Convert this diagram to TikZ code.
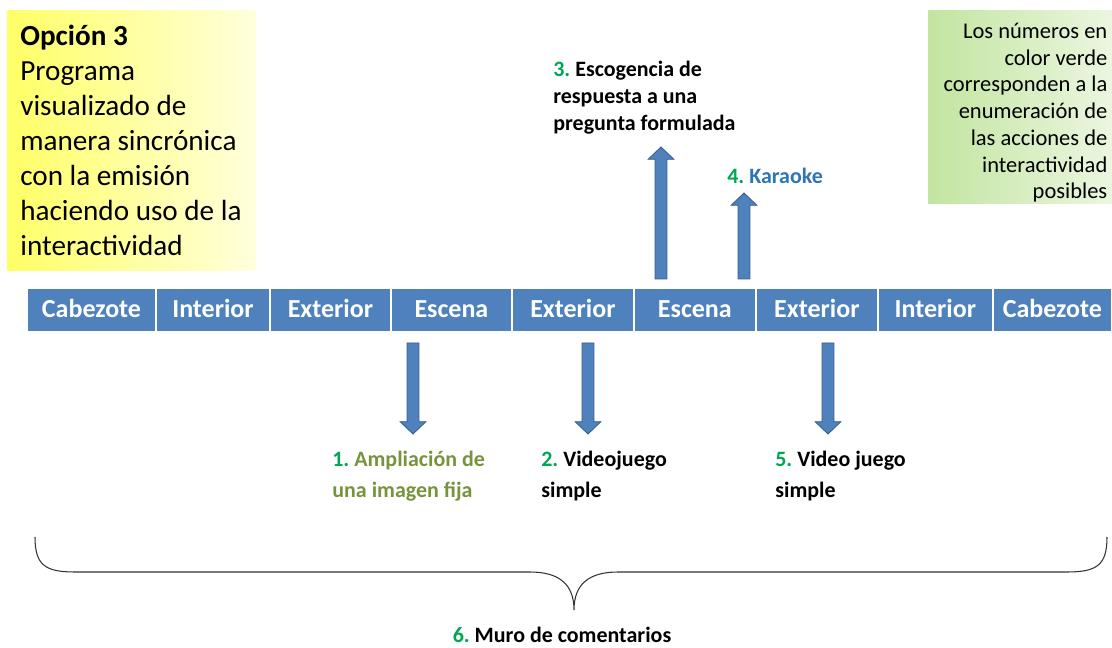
\documentclass[tikz,border=0pt]{standalone}
\usepackage{fontspec}
\setmainfont{Carlito}
\usetikzlibrary{positioning,calc}
\frenchspacing

\definecolor{barblue}{HTML}{4F81BD}
\definecolor{edgeblue}{HTML}{385D8A}
\definecolor{numgreen}{HTML}{00A651}
\definecolor{olivelbl}{HTML}{77933C}
\definecolor{karblue}{HTML}{2E75B6}
\definecolor{yelA}{HTML}{FFFF66}
\definecolor{yelB}{HTML}{FFFFDC}
\definecolor{grnA}{HTML}{C2E5A0}
\definecolor{grnB}{HTML}{EBF6E0}

\newcommand{\numg}[1]{\textcolor{numgreen}{#1}}

\tikzset{
  cell/.style={fill=barblue, draw=white, line width=1pt, outer sep=0pt,
    minimum height=0.88cm, inner sep=0pt, text=white,
    text height=1.75ex, text depth=0pt,
    font=\fontsize{14.8}{17}\selectfont\bfseries},
  blockarr/.style={fill=barblue, draw=edgeblue, line width=0.5pt,
    to path={let \p1=(\tikztostart), \p2=(\tikztotarget),
      \p3=($(\tikztotarget)!7pt!(\tikztostart)$) in
      (\x1-3.4pt,\y1) -- (\x1-3.4pt,\y3) -- (\x1-7.3pt,\y3) -- (\x2,\y2)
      -- (\x1+7.3pt,\y3) -- (\x1+3.4pt,\y3) -- (\x1+3.4pt,\y1) -- cycle}},
  lbl/.style={align=left, inner sep=0pt, anchor=north west,
    font=\fontsize{12.5}{17.6}\selectfont\bfseries},
  bracesty/.style={draw=black!80, line width=0.6pt}
}

\begin{document}
\begin{tikzpicture}[x=0.02cm,y=-0.02cm]
\useasboundingbox (0,0) rectangle (1112,648);

% boxes at the top
\node[left color=yelA, right color=yelB, minimum width=4.96cm, minimum height=5.2cm,
  anchor=north west, inner sep=0pt] (opcbox) at (7,10) {};
\node[anchor=west, align=left, inner sep=0pt, font=\fontsize{16.6}{19.9}\selectfont]
  (opc) at ([xshift=0.26cm]opcbox.west) {\textbf{Opción 3}\\Programa\\visualizado de\\manera sincrónica\\con la emisión\\haciendo uso de la\\interactividad};
\node[left color=grnA, right color=grnB, minimum width=3.68cm, minimum height=3.86cm,
  anchor=north west, inner sep=0pt] (notabox) at (928,10) {};
\node[anchor=east, align=right, inner sep=0pt, font=\fontsize{12.8}{15.2}\selectfont]
  (nota) at ([xshift=-0.1cm,yshift=-0.12cm]notabox.east) {Los números en\\color verde\\corresponden a la\\enumeración de\\las acciones de\\interactividad\\posibles};

% the bar
\node[cell, minimum width=2.58cm, anchor=north west] (c1) at (27,288) {Cabezote};
\node[cell, minimum width=2.28cm, right=0pt of c1] (c2) {Interior};
\node[cell, minimum width=2.42cm, right=0pt of c2] (c3) {Exterior};
\node[cell, minimum width=2.42cm, right=0pt of c3] (c4) {Escena};
\node[cell, minimum width=2.44cm, right=0pt of c4] (c5) {Exterior};
\node[cell, minimum width=2.44cm, right=0pt of c5] (c6) {Escena};
\node[cell, minimum width=2.44cm, right=0pt of c6] (c7) {Exterior};
\node[cell, minimum width=2.30cm, right=0pt of c7] (c8) {Interior};
\node[cell, minimum width=2.38cm, right=0pt of c8] (c9) {Cabezote};

% arrows
\coordinate (u1s) at (661,279); \coordinate (u1e) at (661,147);
\coordinate (u2s) at (744,279); \coordinate (u2e) at (744,193);
\coordinate (d1s) at (413,343); \coordinate (d1e) at (413,434);
\coordinate (d2s) at (588,343); \coordinate (d2e) at (588,434);
\coordinate (d3s) at (828,343); \coordinate (d3e) at (828,434);
\filldraw[blockarr] (u1s) to (u1e);
\filldraw[blockarr] (u2s) to (u2e);
\filldraw[blockarr] (d1s) to (d1e);
\filldraw[blockarr] (d2s) to (d2e);
\filldraw[blockarr] (d3s) to (d3e);

% labels
\node[lbl, font=\fontsize{12.5}{15.4}\selectfont\bfseries] (l3) at (553,61)
  {\numg{3.} Escogencia de\\respuesta a una\\pregunta formulada};
\node[lbl, anchor=base west, text=karblue] (l4) at (727,184) {\numg{4.} Karaoke};
\node[lbl, text=olivelbl] (l1) at (332,451) {\numg{1.} Ampliación de\\una imagen fija};
\node[lbl] (l2) at (541,451) {\numg{2.} Videojuego\\simple};
\node[lbl] (l5) at (775,451) {\numg{5.} Video juego\\simple};

% brace
\draw[bracesty] (35,537) .. controls (35,565) and (45,572) .. (75,572) -- (530,572)
  .. controls (560,572) and (574,585) .. (574,610)
  .. controls (574,585) and (588,572) .. (618,572) -- (1067,572)
  .. controls (1097,572) and (1107,565) .. (1107,537);
\node[lbl, anchor=base] (l6) at (562,642) {\numg{6.} Muro de comentarios};
\end{tikzpicture}
\end{document}
